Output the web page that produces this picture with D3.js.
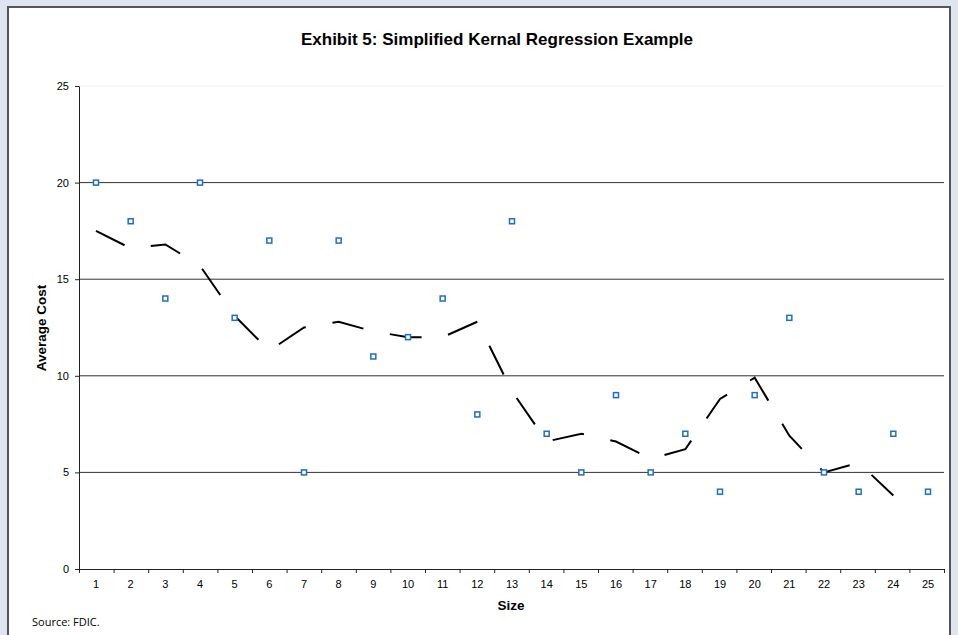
<!DOCTYPE html>
<html><head><meta charset="utf-8">
<script src="https://cdn.jsdelivr.net/npm/d3@7"></script>
<style>body{margin:0;background:#dfe5f0;}svg{display:block;font-family:"Liberation Sans",Arial,sans-serif;}</style>
</head><body>
<script>
const sizes = d3.range(1, 26);
const avgCost = [20,18,14,20,13,17,5,17,11,12,14,8,18,7,5,9,5,7,4,9,13,5,4,7,4];
const kernel = [17.5,16.6,16.8,15.7,13.1,11.3,12.5,12.8,12.3,12.0,12.0,12.8,9.2,6.6,7.0,6.6,5.7,6.2,8.8,9.9,6.9,5.0,5.5,3.8];
const yTicks = [0,5,10,15,20,25];

const W = 958, H = 635;
const svg = d3.select("body").append("svg").attr("width", W).attr("height", H);
svg.append("rect").attr("x", 8).attr("y", 7).attr("width", 942).attr("height", 640)
  .attr("fill", "#fff").attr("stroke", "#555").attr("stroke-width", 2);

const m = {l: 79, r: 944, t: 86, b: 569};
const x = d3.scalePoint().domain(sizes).range([96, 928]);
const xb = d3.scaleLinear().domain([0.5, 25.5]).range([m.l, m.r]);
const y = d3.scaleLinear().domain([0, 25]).range([m.b, m.t]);

svg.append("g").selectAll("line").data(yTicks.slice(1)).join("line")
  .attr("x1", m.l).attr("x2", m.r).attr("y1", d => y(d)).attr("y2", d => y(d))
  .attr("stroke", d => d === 25 ? "#eee" : "#333").attr("stroke-width", 1);

const ya = svg.append("g").attr("transform", `translate(${m.l},0)`)
  .call(d3.axisLeft(y).tickValues(yTicks).tickSize(4).tickSizeOuter(0).tickPadding(6));
const xa = svg.append("g").attr("transform", `translate(0,${m.b})`)
  .call(d3.axisBottom(xb).tickValues(d3.range(0.5, 26, 1)).tickSize(4).tickSizeOuter(0).tickFormat(""));
xa.selectAll("text").remove();
svg.append("g").selectAll("text").data(sizes).join("text")
  .attr("x", d => x(d)).attr("y", m.b + 19).attr("text-anchor", "middle")
  .attr("font-size", 11).text(d => d);
[ya, xa].forEach(a => { a.select(".domain").attr("stroke", "#222"); a.selectAll("line").attr("stroke", "#222"); });
ya.selectAll("text").attr("font-size", 11).attr("fill", "#000").attr("font-family", "Liberation Sans, Arial, sans-serif");

svg.append("path").datum(kernel)
  .attr("d", d3.line().x((d, i) => x(sizes[i])).y(d => y(d)))
  .attr("fill", "none").attr("stroke", "#000").attr("stroke-width", 2)
  .attr("stroke-dasharray", "32,27");

svg.append("g").selectAll("rect").data(avgCost).join("rect")
  .attr("x", (d, i) => x(sizes[i]) - 2.5).attr("y", d => y(d) - 2.5)
  .attr("width", 5).attr("height", 5).attr("fill", "#fff")
  .attr("stroke", "#1f6fc0").attr("stroke-width", 1.5);

svg.append("text").attr("x", 497).attr("y", 45).attr("text-anchor", "middle")
  .attr("font-size", 17).attr("font-weight", "bold").text("Exhibit 5: Simplified Kernal Regression Example");
svg.append("text").attr("x", 511).attr("y", 610).attr("text-anchor", "middle")
  .attr("font-size", 13.5).attr("font-weight", "bold").text("Size");
svg.append("text").attr("transform", "translate(46,328) rotate(-90)").attr("text-anchor", "middle")
  .attr("font-size", 13.5).attr("font-weight", "bold").text("Average Cost");
svg.append("text").attr("x", 32).attr("y", 626).attr("font-size", 11)
  .attr("font-family", "Open Sans, sans-serif").text("Source: FDIC.");
</script>
</body></html>
